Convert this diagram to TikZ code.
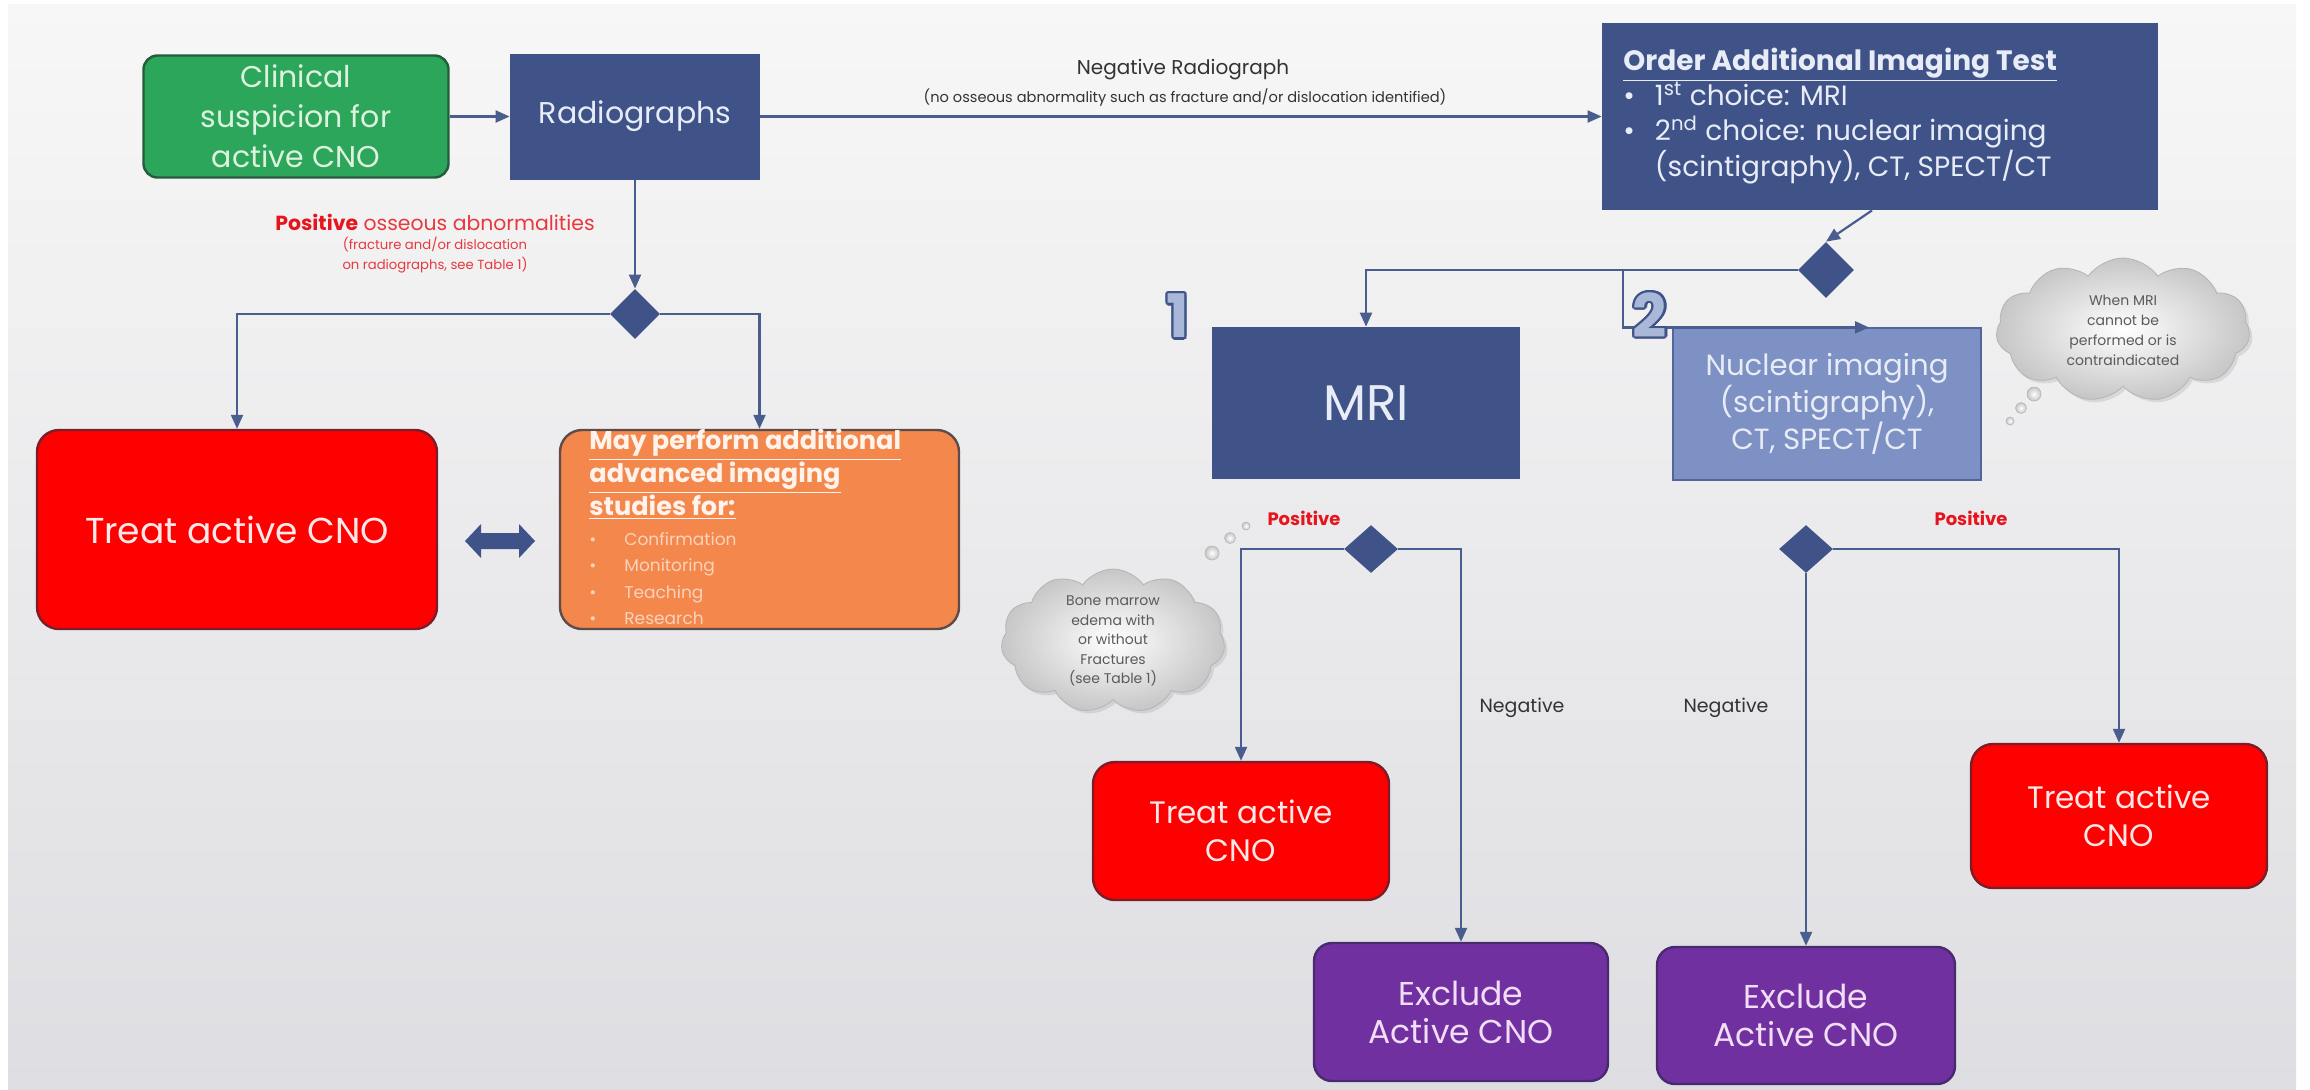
\documentclass[tikz,border=0pt]{standalone}
\usepackage{fontspec}
\setmainfont{Poppins}
\usepackage[copies]{contour}
\usetikzlibrary{shapes.geometric,shapes.symbols,arrows.meta,shadows}

\definecolor{navy}{HTML}{3F5389}
\definecolor{navytext}{HTML}{E8ECF6}
\definecolor{nucfill}{HTML}{7D91C4}
\definecolor{nucedge}{HTML}{55659A}
\definecolor{greenbox}{HTML}{2CA65A}
\definecolor{greenedge}{HTML}{245C3C}
\definecolor{greentext}{HTML}{DDF3E0}
\definecolor{redbox}{HTML}{FF0000}
\definecolor{rededge}{HTML}{7A1E2A}
\definecolor{redtext}{HTML}{FFE8E8}
\definecolor{orangebox}{HTML}{F4874B}
\definecolor{orangeedge}{HTML}{5E4C4A}
\definecolor{orangetitle}{HTML}{FFF3EC}
\definecolor{orangelite}{HTML}{FAD3BD}
\definecolor{purplebox}{HTML}{7030A0}
\definecolor{purpleedge}{HTML}{4A2A6E}
\definecolor{purpletext}{HTML}{F2DDF7}
\definecolor{linec}{HTML}{4A5D8F}
\definecolor{labeltext}{HTML}{333333}
\definecolor{posred}{HTML}{E8141C}
\definecolor{posredlite}{HTML}{E8383E}
\definecolor{cloudgray}{HTML}{C6C6C6}
\definecolor{cloudedge}{HTML}{B4B4B4}
\definecolor{cloudtext}{HTML}{5A5A5A}
\definecolor{numfill}{HTML}{A9B7D9}
\definecolor{bgtop}{HTML}{F7F7F7}
\definecolor{bgbot}{HTML}{DEDEE2}

\contourlength{1.1pt}

\begin{document}
\begin{tikzpicture}[x=0.5pt,y=-0.5pt,
  every node/.style={inner sep=0pt},
  box/.style={rectangle, align=center, inner sep=4pt},
  navybox/.style={box, fill=navy, text=navytext},
  greenbx/.style={box, rounded corners=7pt, fill=greenbox, draw=greenedge, line width=1.2pt, text=greentext},
  redbx/.style={box, rounded corners=11pt, fill=redbox, draw=rededge, line width=1.2pt, text=redtext},
  orangebx/.style={box, rounded corners=11pt, fill=orangebox, draw=orangeedge, line width=1.2pt},
  purplebx/.style={box, rounded corners=9pt, fill=purplebox, draw=purpleedge, line width=1.2pt, text=purpletext},
  decision/.style={diamond, fill=navy, inner sep=0pt},
  conn/.style={draw=linec, line width=1.1pt, -{Triangle[length=7pt,width=6pt]}},
  thought/.style={cloud, cloud puffs=11, cloud puff arc=110, cloud ignores aspect,
    inner color=white, outer color=cloudgray, draw=cloudedge, line width=0.4pt,
    align=center, text=cloudtext, drop shadow={shadow xshift=1.5pt, shadow yshift=-1.5pt, opacity=0.2}},
  bubble/.style={circle, inner color=white, outer color=cloudgray, draw=cloudedge, line width=0.3pt},
  lbl/.style={text=labeltext, align=center},
]
\useasboundingbox (0,0) rectangle (2310,1089);

% background
\fill[white] (0,0) rectangle (2310,1089);
\shade[top color=bgtop, bottom color=bgbot] (8,4) rectangle (2296,1089);

% ---- upper left: entry and radiographs ----
\node[greenbx, minimum width=152.5pt, minimum height=61pt, font=\fontsize{15}{20}\selectfont]
  (clin) at (296,116.5) {Clinical\\suspicion for\\active CNO};
\node[navybox, minimum width=125pt, minimum height=63pt, font=\fontsize{15}{20}\selectfont]
  (radio) at (635,116.5) {Radiographs};

\node[navybox, minimum width=278pt, minimum height=93.5pt] (order) at (1880,116.5) {};
\node[anchor=west, text=navytext, font=\fontsize{14}{16.5}\selectfont] (ordertxt) at (1623,117) {%
  \begin{tabular}{@{}l@{}}
  \textbf{\underline{Order Additional Imaging Test}}\\
  \textbullet\hspace{10pt}1\textsuperscript{st} choice: MRI\\
  \textbullet\hspace{10pt}2\textsuperscript{nd} choice: nuclear imaging\\
  \hphantom{\textbullet\hspace{10pt}}(scintigraphy), CT, SPECT/CT
  \end{tabular}};

\node[lbl, font=\fontsize{10}{12}\selectfont] (neglab) at (1183,70) {Negative Radiograph};
\node[lbl, font=\fontsize{7.3}{8}\selectfont] (negsub) at (1185,97)
  {(no osseous abnormality such as fracture and/or dislocation identified)};

\node[text=posredlite, font=\fontsize{10.2}{12}\selectfont] (poslab) at (435,222)
  {\textcolor{posred}{\textbf{Positive}} osseous abnormalities};
\node[text=posredlite, align=center, font=\fontsize{6.6}{10}\selectfont] (possub) at (435,255)
  {(fracture and/or dislocation\\on radiographs, see Table 1)};

% ---- left branch ----
\node[decision, minimum width=25pt, minimum height=25pt] (diaL) at (635,314) {};
\node[redbx, minimum width=200pt, minimum height=99.5pt, font=\fontsize{18}{22}\selectfont]
  (treatL) at (237,529.5) {Treat active CNO};
\node[orangebx, minimum width=199.5pt, minimum height=99.5pt] (more) at (759.5,529.5) {};
\node[anchor=west, text=orangetitle, font=\fontsize{12.8}{15.5}\selectfont] (moretxt) at (589,531) {%
  \begin{tabular}{@{}l@{}}
  \textbf{\underline{May perform additional}}\\
  \textbf{\underline{advanced imaging}}\\
  \textbf{\underline{studies for:}}\\[-0.5pt]
  {\color{orangelite}\fontsize{8.5}{12}\selectfont\textbullet\hspace{14pt}Confirmation}\\[-2.25pt]
  {\color{orangelite}\fontsize{8.5}{12}\selectfont\textbullet\hspace{14pt}Monitoring}\\[-2.25pt]
  {\color{orangelite}\fontsize{8.5}{12}\selectfont\textbullet\hspace{14pt}Teaching}\\[-2.25pt]
  {\color{orangelite}\fontsize{8.5}{12}\selectfont\textbullet\hspace{14pt}Research}
  \end{tabular}};
% two-way block arrow between treatment and further imaging
\fill[navy] (465,541) -- (481,524) -- (481,533) -- (519,533) -- (519,524) -- (535,541)
  -- (519,558) -- (519,549) -- (481,549) -- (481,558) -- cycle;

% ---- right part ----
\node[decision, minimum width=28pt, minimum height=28pt] (diaR) at (1826,270) {};
\node[navybox, minimum width=154pt, minimum height=76pt, font=\fontsize{25}{28}\selectfont]
  (mri) at (1366,403) {MRI};
\node[box, fill=nucfill, draw=nucedge, line width=0.6pt, text=navytext, minimum width=154pt, minimum height=76pt,
  font=\fontsize{14.6}{17.5}\selectfont] (nuc) at (1827,404) {Nuclear imaging\\(scintigraphy),\\CT, SPECT/CT};

\node[thought, minimum width=127pt, minimum height=72pt, font=\fontsize{7}{10}\selectfont]
  (cloudA) at (2123,330) {When MRI\\cannot be\\performed or is\\contraindicated};
\node[bubble, minimum size=7pt] (ba1) at (2034,394) {};
\node[bubble, minimum size=5.5pt] (ba2) at (2021,408) {};
\node[bubble, minimum size=4pt] (ba3) at (2010,421) {};

\node[decision, minimum width=27pt, minimum height=24pt] (diaM) at (1371,549) {};
\node[decision, minimum width=27pt, minimum height=24pt] (diaN) at (1806,549) {};
\node[text=posred, font=\fontsize{9}{11}\selectfont\bfseries] (posM) at (1304,518) {Positive};
\node[text=posred, font=\fontsize{9}{11}\selectfont\bfseries] (posN) at (1971,518) {Positive};

\node[thought, minimum width=112pt, minimum height=72pt, font=\fontsize{7}{9.75}\selectfont]
  (cloudB) at (1113,641) {Bone marrow\\edema with\\or without\\Fractures\\(see Table 1)};
\node[bubble, minimum size=7pt] (bb1) at (1212,553) {};
\node[bubble, minimum size=5.5pt] (bb2) at (1230,538) {};
\node[bubble, minimum size=4pt] (bb3) at (1246,526) {};

\node[redbx, minimum width=148pt, minimum height=69pt, font=\fontsize{15.5}{19}\selectfont]
  (treatM) at (1241,831) {Treat active\\CNO};
\node[purplebx, minimum width=147pt, minimum height=69pt, font=\fontsize{16.5}{19}\selectfont]
  (exclM) at (1461,1012) {Exclude\\Active CNO};
\node[purplebx, minimum width=149pt, minimum height=68.5pt, font=\fontsize{16.5}{19}\selectfont]
  (exclN) at (1806,1015.5) {Exclude\\Active CNO};
\node[redbx, minimum width=148pt, minimum height=72pt, font=\fontsize{15.5}{19}\selectfont]
  (treatN) at (2119,816) {Treat active\\CNO};

\node[lbl, font=\fontsize{9.5}{11}\selectfont] (negM) at (1522,708) {Negative};
\node[lbl, font=\fontsize{9.5}{11}\selectfont] (negN) at (1726,708) {Negative};

% ---- connectors ----
\coordinate (split2) at (1623,270);
\draw[conn] (clin.east) -- (radio.west);
\draw[conn] (radio.east) -- (order.west);
\draw[conn] (radio.south) -- (diaL.north);
\draw[conn] (diaL.west) -| (treatL.north);
\draw[conn] (diaL.east) -| (more.north);
\draw[conn] ([xshift=-4pt]order.south) -- (diaR.north);
\draw[conn] (diaR.west) -| (mri.north);
\draw[conn] (split2) |- ([xshift=21pt]nuc.north);
\draw[conn] (diaM.west) -| (treatM.north);
\draw[conn] (diaM.east) -| (exclM.north);
\draw[conn] (diaN.south) -- (exclN.north);
\draw[conn] (diaN.east) -| (treatN.north);

% option numbers
\node[font=\fontsize{30}{30}\selectfont\bfseries] (num1) at (1178,317) {\contour{navy}{\textcolor{numfill}{1}}};
\node[font=\fontsize{30}{30}\selectfont\bfseries] (num2) at (1650,316) {\contour{navy}{\textcolor{numfill}{2}}};
\end{tikzpicture}
\end{document}
